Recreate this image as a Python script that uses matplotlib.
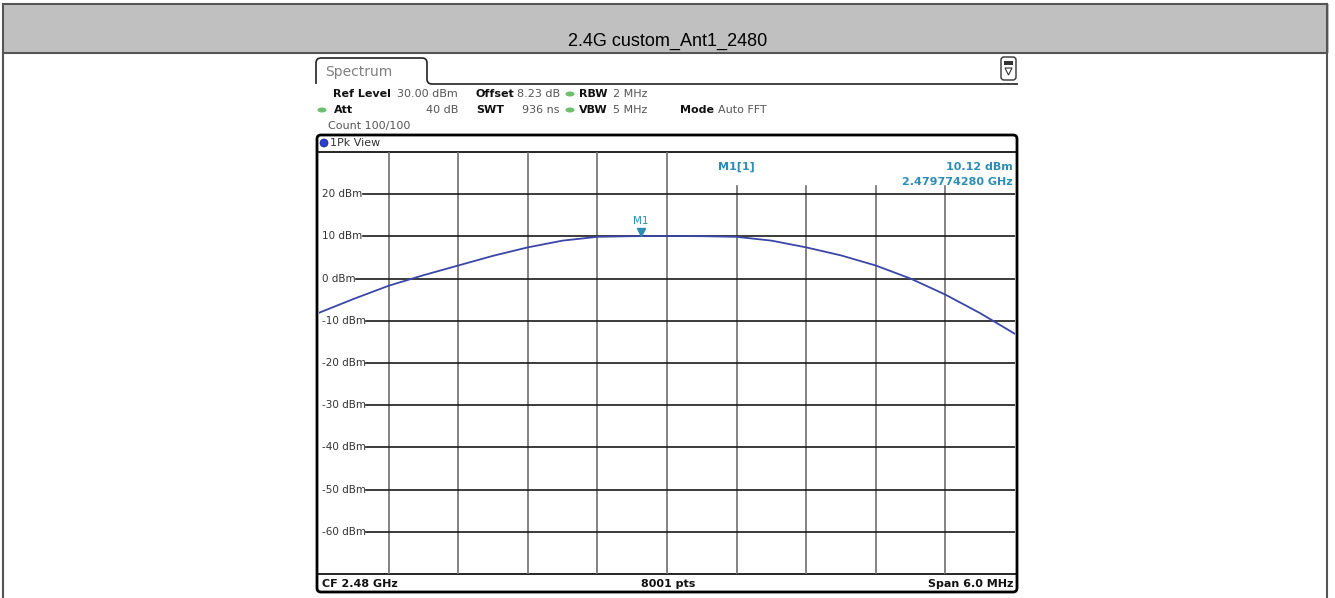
import numpy as np
import matplotlib
matplotlib.use("Agg")
import matplotlib.pyplot as plt
from matplotlib.patches import Rectangle, FancyBboxPatch, Ellipse, Polygon, PathPatch
from matplotlib.path import Path

# trace (CF 2.48 GHz, span 6 MHz, 0.3 MHz steps)
freq_ghz = [2.4770, 2.4773, 2.4776, 2.4779, 2.4782, 2.4785, 2.4788, 2.4791, 2.4794, 2.4797,
            2.4800, 2.4803, 2.4806, 2.4809, 2.4812, 2.4815, 2.4818, 2.4821, 2.4824, 2.4827, 2.4830]
level_dbm = [-8.1, -4.8, -1.7, 0.8, 3.1, 5.4, 7.4, 9.0, 9.9, 10.05,
             10.1, 10.05, 9.9, 9.0, 7.4, 5.5, 3.1, 0.0, -3.8, -8.2, -13.1]
y_levels = [20, 10, 0, -10, -20, -30, -40, -50, -60]
y_labels = ["20 dBm", "10 dBm", "0 dBm", "-10 dBm", "-20 dBm", "-30 dBm", "-40 dBm", "-50 dBm", "-60 dBm"]
x_divs = [2.4776, 2.4782, 2.4788, 2.4794, 2.4800, 2.4806, 2.4812, 2.4818, 2.4824]
m1_freq = 2.479774280
m1_level = 10.12

W, H = 1335, 598
teal = "#2b8db5"
trace_c = "#3a46a8"
fig = plt.figure(figsize=(W / 100, H / 100), dpi=100)

# pixel overlay for the frame / screenshot chrome
bg = fig.add_axes([0, 0, 1, 1])
bg.set_xlim(0, W)
bg.set_ylim(H, 0)
bg.axis("off")
bg.add_patch(Rectangle((0, 0), W, H, fc="white", ec="none"))
bg.add_patch(Rectangle((3, 4), W - 9, 49, fc="#c0c0c0", ec="none"))
bg.plot([3, W - 8], [4, 4], color="#555555", lw=1.5)
bg.plot([3, W - 8], [53, 53], color="#555555", lw=1.5)
bg.plot([3, 3], [4, H], color="#555555", lw=1.5)
bg.plot([W - 8, W - 8], [4, H], color="#555555", lw=1.5)
bg.text(668, 41, "2.4G custom_Ant1_2480", ha="center", va="center", fontsize=13,
        family="Liberation Sans", color="black")

# Spectrum tab
verts = [(316, 84), (316, 63), (316, 58), (321, 58), (422, 58), (427, 58), (427, 63),
         (427, 79), (427, 84), (432, 84), (1018, 84)]
codes = [Path.MOVETO, Path.LINETO, Path.CURVE3, Path.CURVE3, Path.LINETO, Path.CURVE3, Path.CURVE3,
         Path.LINETO, Path.CURVE3, Path.CURVE3, Path.LINETO]
bg.add_patch(PathPatch(Path(verts, codes), fc="none", ec="#222222", lw=1.2))
bg.text(325, 72, "Spectrum", fontsize=10, color="#808080", va="center", ha="left")

# little icon top right
bg.add_patch(FancyBboxPatch((1001, 57), 15, 23, boxstyle="round,pad=0,rounding_size=3",
                            fc="white", ec="#333333", lw=1))
bg.add_patch(Rectangle((1004, 61), 9, 4, fc="#333333", ec="none"))
bg.add_patch(Polygon([(1005, 68), (1012, 68), (1008.5, 75)], closed=True, fc="white", ec="#333333", lw=0.8))

# setting rows
fs = 8
lab = dict(fontsize=fs, fontweight="bold", color="#111111", va="center")
val = dict(fontsize=fs, color="#555555", va="center")
bg.text(333, 94, "Ref Level", ha="left", **lab)
bg.text(458, 94, "30.00 dBm", ha="right", **val)
bg.text(476, 94, "Offset", ha="left", **lab)
bg.text(560, 94, "8.23 dB", ha="right", **val)
bg.text(579, 94, "RBW", ha="left", **lab)
bg.text(613, 94, "2 MHz", ha="left", **val)
bg.text(334, 110, "Att", ha="left", **lab)
bg.text(458, 110, "40 dB", ha="right", **val)
bg.text(476, 110, "SWT", ha="left", **lab)
bg.text(560, 110, "936 ns", ha="right", **val)
bg.text(579, 110, "VBW", ha="left", **lab)
bg.text(613, 110, "5 MHz", ha="left", **val)
bg.text(680, 110, "Mode", ha="left", **lab)
bg.text(718, 110, "Auto FFT", ha="left", **val)
bg.text(328, 126, "Count 100/100", ha="left", **val)
for (ex, ey) in [(570, 94), (570, 110), (322, 110)]:
    bg.add_patch(Ellipse((ex, ey), 9, 5, fc="#6cbf6c", ec="none"))

# plot frame
bg.add_patch(FancyBboxPatch((317, 135), 700, 457, boxstyle="round,pad=0,rounding_size=4",
                            fc="none", ec="black", lw=2))
bg.plot([317, 1017], [152, 152], color="black", lw=1.2)
bg.plot([317, 1017], [574, 574], color="black", lw=1.2)
bg.add_patch(Ellipse((324, 143), 8, 8, fc="#2a3fd0", ec="#1a237e", lw=0.5))
bg.text(330, 143, "1Pk View", fontsize=fs, color="#333333", va="center", ha="left")
foot = dict(fontsize=8, fontweight="bold", color="#111111", va="center", family="DejaVu Sans")
bg.text(322, 584, "CF 2.48 GHz", ha="left", **foot)
bg.text(668, 584, "8001 pts", ha="center", **foot)
bg.text(1013, 584, "Span 6.0 MHz", ha="right", **foot)

# data axes
left, right, top, bottom = 319, 1015, 152, 574
ax = fig.add_axes([left / W, (H - bottom) / H, (right - left) / W, (bottom - top) / H])
ax.set_xlim(2.477, 2.483)
ax.set_ylim(-70, 30)
ax.axis("off")
ax.patch.set_alpha(0)

for i, xv in enumerate(x_divs):
    ymax = 1.0 if i < 5 else 0.92
    ax.axvline(xv, ymin=0, ymax=ymax, color="#6e6e6e", lw=1.2, zorder=1)

# level labels sit inside the grid, each line starts where its label ends
tick_texts = []
for yv, yl in zip(y_levels, y_labels):
    t = ax.text(0.005, yv, yl, transform=ax.get_yaxis_transform(), fontsize=7.5, color="#333333",
                va="center", ha="left", zorder=2)
    tick_texts.append(t)
fig.canvas.draw()
inv = ax.transAxes.inverted()
for yv, t in zip(y_levels, tick_texts):
    bb = t.get_window_extent()
    x_end = inv.transform((bb.x1, bb.y0))[0]
    ax.axhline(yv, xmin=x_end, xmax=1, color="#1a1a1a", lw=1.2, zorder=1)

ax.plot(freq_ghz, level_dbm, color=trace_c, lw=1.3, zorder=3)

ax.plot([m1_freq], [m1_level + 1.0], marker="v", color=teal, markersize=6, zorder=4)
ax.text(m1_freq, m1_level + 2.4, "M1", color=teal, fontsize=7.5, ha="center", va="bottom", zorder=4)
ax.text(0.6, 0.965, "M1[1]", transform=ax.transAxes, color=teal, fontsize=8, fontweight="bold",
        ha="center", va="center")
ax.text(0.997, 0.965, "%.2f dBm" % m1_level, transform=ax.transAxes, color=teal, fontsize=8,
        fontweight="bold", ha="right", va="center")
ax.text(0.997, 0.93, "%.9f GHz" % m1_freq, transform=ax.transAxes, color=teal, fontsize=8,
        fontweight="bold", ha="right", va="center")

fig.savefig("out.png", dpi=100)
